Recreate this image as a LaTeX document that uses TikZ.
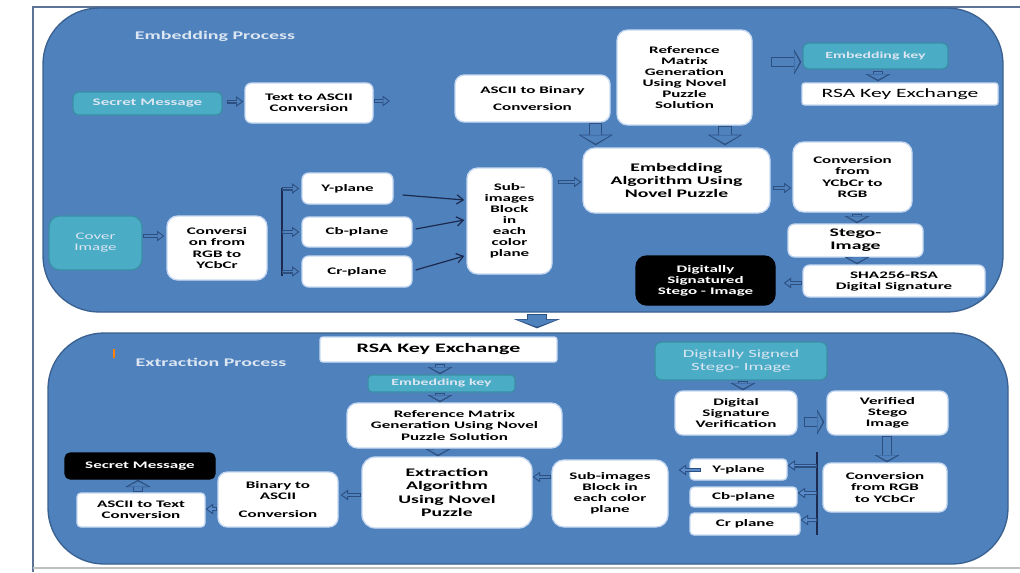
\documentclass[tikz,border=0pt]{standalone}
\usepackage{fontspec}
\setmainfont{Carlito}[FakeStretch=1.7]
\usepackage{tikz}
\usetikzlibrary{arrows.meta,calc,positioning}

\definecolor{panelblue}{HTML}{4F81BD}
\definecolor{paneledge}{HTML}{3A6190}
\definecolor{tealbox}{HTML}{4BACC6}
\definecolor{tealedge}{HTML}{3A8EA5}
\definecolor{paletext}{HTML}{DCE6F2}
\definecolor{boxedge}{HTML}{C6D9F1}
\definecolor{arrowedge}{HTML}{2C4F80}
\definecolor{arrowfill}{HTML}{5B8DCC}
\definecolor{navyline}{HTML}{1B2A4E}
\definecolor{frameline}{HTML}{5C7396}

\newcommand\boxfont{\fontsize{7.5}{8.3}\selectfont\bfseries}
\newcommand\bigfont{\fontsize{8.7}{10}\selectfont\bfseries}

\begin{document}
\begin{tikzpicture}[x=0.75pt,y=-0.75pt,
  sz/.style 2 args={minimum width=#1*0.75pt,minimum height=#2*0.75pt},
  panel/.style={draw=paneledge,fill=panelblue,line width=1pt,rounded corners=42pt},
  wbox/.style={draw=boxedge,fill=white,line width=1pt,rounded corners=5pt,inner sep=1pt,align=center,font=\boxfont},
  tbox/.style={wbox,draw=tealedge,fill=tealbox,text=paletext},
  kbox/.style={wbox,draw=black,fill=black,text=white},
  title/.style={text=paletext,font=\fontsize{8.8}{10}\selectfont\bfseries},
  smallarr/.style={draw=panelblue,line width=1.4pt,shorten <=0.8pt,shorten >=1.3pt,
    -{Triangle[length=3.6pt,width=5pt,line width=0pt]},
    preaction={draw=arrowedge,line width=3pt,shorten <=0pt,shorten >=0pt,
      -{Triangle[length=5.5pt,width=8pt,line width=0pt]}}},
  solidsmall/.style={smallarr,draw=arrowfill},
  midarr/.style={draw=panelblue,line width=5.4pt,shorten <=0.8pt,shorten >=1.3pt,
    -{Triangle[length=4pt,width=15pt,line width=0pt]},
    preaction={draw=arrowedge,line width=7pt,shorten <=0pt,shorten >=0pt,
      -{Triangle[length=5.5pt,width=19pt,line width=0pt]}}},
  bigarr/.style={draw=panelblue,line width=8.4pt,shorten <=0.8pt,shorten >=1.3pt,
    -{Triangle[length=6.2pt,width=22pt,line width=0pt]},
    preaction={draw=arrowedge,line width=10pt,shorten <=0pt,shorten >=0pt,
      -{Triangle[length=8pt,width=26pt,line width=0pt]}}},
  panelarr/.style={draw=panelblue,line width=13.4pt,shorten <=0.8pt,shorten >=1.2pt,
    -{Triangle[length=5.4pt,width=31pt,line width=0pt]},
    preaction={draw=arrowedge,line width=15pt,shorten <=0pt,shorten >=0pt,
      -{Triangle[length=7pt,width=35pt,line width=0pt]}}},
  thinarr/.style={draw=navyline,line width=0.9pt,-{Straight Barb[length=5pt,width=7pt]}},
  splitline/.style={draw=navyline,line width=1.2pt}]

 \useasboundingbox (0,0) rectangle (1020,572);
 \fill[white] (0,0) rectangle (1020,572);
 \draw[frameline,line width=0.8pt] (33,572) -- (33,7) -- (1020,7);
 \draw[black!25,line width=1.2pt] (33,568) -- (1020,568);

 % the two stages
 \node[panel,sz={960}{304}] (embpanel) at (523,160) {};
 \node[panel,sz={960}{231}] (extpanel) at (528,448.5) {};
 \node[title] (embtitle) at (215,36) {Embedding Process};
 \node[title] (exttitle) at (211,362) {Extraction Process};
 \draw[orange,line width=1.2pt] (114,349) -- (114,358);

 \node[tbox,sz={149}{23},rounded corners=4pt] (secmsg) at (147.5,103.5) {Secret Message};
 \node[wbox,sz={128}{40}] (txtascii) at (309,103) {Text to ASCII\\Conversion};
 \coordinate (txtout) at (390,101);
 \node[wbox,sz={155}{47},rounded corners=7pt] (ascbin) at (532.5,98.5) {ASCII to Binary\\[5pt]Conversion};
 \node[wbox,sz={135}{95},rounded corners=8pt] (refmat) at (684.5,77.5) {Reference\\Matrix\\Generation\\Using Novel\\Puzzle\\Solution};
 \node[tbox,sz={145}{26},rounded corners=4pt,font=\fontsize{7}{8}\selectfont\bfseries] (embkey) at (875.5,56) {Embedding key};
 \node[wbox,sz={196}{22},rounded corners=2pt,font=\fontsize{9.5}{11}\selectfont] (rsaone) at (900,94) {RSA Key Exchange};
 \node[wbox,sz={187}{65},rounded corners=9pt,font=\bigfont] (embalg) at (676.5,180.5) {Embedding\\Algorithm Using\\Novel Puzzle};
 \node[wbox,sz={119}{70},rounded corners=8pt] (rgbback) at (852.5,177) {Conversion\\from\\YCbCr to\\RGB};
 \node[wbox,sz={135}{33},font=\bigfont] (stego) at (855.5,240.5) {Stego-\\Image};
 \node[wbox,sz={182}{32}] (shasig) at (894,281) {SHA256-RSA\\Digital Signature};
 \node[kbox,sz={139}{49},rounded corners=8pt] (signed) at (705.5,280.5) {Digitally\\Signatured\\Stego - Image};
 \node[tbox,sz={93}{54},rounded corners=8pt,font=\fontsize{7.5}{8.3}\selectfont] (cover) at (95.5,243) {Cover\\Image};
 \node[wbox,sz={100}{64},rounded corners=8pt] (toycbcr) at (217,248) {Conversi\\on from\\RGB to\\YCbCr};
 \node[wbox,sz={91}{31}] (yplane) at (347.5,188.5) {Y-plane};
 \node[wbox,sz={110}{30}] (cbplane) at (357,232) {Cb-plane};
 \node[wbox,sz={110}{31}] (crplane) at (357,271.5) {Cr-plane};
 \node[wbox,sz={85}{106},rounded corners=8pt] (subimg) at (509.5,221) {Sub-\\images\\Block\\in\\each\\color\\plane};
 \coordinate (splittop) at (282,188);
 \coordinate (splitbot) at (282,276);

 \draw[smallarr] ($(secmsg.east)+(4,-2)$) -- ($(secmsg.east -| txtascii.west)+(-1,-2)$);
 \draw[smallarr] ($(txtascii.east)+(0,-2)$) -- (txtout);
 \draw[bigarr] ($(ascbin.south east)+(-15,0)$) -- ($(ascbin.south east |- embalg.north)+(-15,-2)$);
 \draw[bigarr] ($(refmat.south)+(40.5,0)$) -- ($(refmat.south |- embalg.north)+(40.5,-2)$);
 \draw[midarr] ($(refmat.east |- embkey.west)+(18,6)$) -- ($(embkey.west)+(-1,6)$);
 \draw[midarr] ($(embkey.south)+(2.5,1)$) -- ($(embkey.south |- rsaone.north)+(2.5,-1)$);
 \draw[smallarr] ($(subimg.east |- embalg.west)+(5,1.5)$) -- ($(embalg.west)+(-1,1.5)$);
 \draw[smallarr] ($(embalg.east)+(2,7.5)$) -- ($(embalg.east -| rgbback.west)+(-1,7.5)$);
 \draw[midarr] ($(rgbback.south)+(4.5,1)$) -- ($(rgbback.south |- stego.north)+(4.5,0)$);
 \draw[midarr] ($(stego.south)+(1.5,0)$) -- ($(stego.south |- shasig.north)+(1.5,0)$);
 \draw[smallarr] ($(shasig.west)+(0,2)$) -- ($(shasig.west -| signed.east)+(8,2)$);
 \draw[smallarr] ($(cover.east)+(0,-7)$) -- ($(cover.east -| toycbcr.west)+(-2,-7)$);
 \draw[splitline] (splittop) -- (splitbot);
 \foreach \pl in {yplane,cbplane,crplane}
   \draw[smallarr] (\pl.west -| splittop) -- ($(\pl.west)+(-2,0)$);
 \draw[thinarr] ($(yplane.east)+(9,6.5)$) -- ($(subimg.west)+(-2,-21)$);
 \draw[thinarr] ($(cbplane.east)+(3,-3)$) -- ($(subimg.west)+(-2,-1)$);
 \draw[thinarr] ($(crplane.east)+(3,-1.5)$) -- ($(subimg.west)+(-2,35)$);

 \draw[panelarr] ($(embpanel.south)+(14,1)$) -- ($(embpanel.south |- extpanel.north)+(14,-4)$);

 \node[wbox,sz={237}{25},rounded corners=2pt,font=\fontsize{9.7}{11}\selectfont\bfseries] (rsatwo) at (438.5,349.5) {RSA Key Exchange};
 \node[tbox,sz={147}{17},rounded corners=3pt,font=\fontsize{7}{8}\selectfont\bfseries] (embkeytwo) at (441.5,383.5) {Embedding key};
 \node[wbox,sz={215}{45},rounded corners=8pt] (refmattwo) at (454.5,425.5) {Reference Matrix\\Generation Using Novel\\Puzzle Solution};
 \node[wbox,sz={170}{71},rounded corners=10pt,font=\bigfont] (extalg) at (447,492.5) {Extraction\\Algorithm\\Using Novel\\Puzzle};
 \node[wbox,sz={116}{67},rounded corners=9pt] (subimgtwo) at (610,493.5) {Sub-images\\Block in\\each color\\plane};
 \node[wbox,sz={120}{55},rounded corners=7pt] (binascii) at (278,499.5) {Binary to\\ASCII\\[5pt]Conversion};
 \node[wbox,sz={128}{34},rounded corners=3pt] (asctxt) at (141,510) {ASCII to Text\\Conversion};
 \node[kbox,sz={150}{26},rounded corners=4pt] (secmsgtwo) at (140,466) {Secret Message};
 \node[tbox,sz={172}{38},rounded corners=5pt,font=\fontsize{8.3}{9.5}\selectfont] (signedin) at (741,361) {Digitally Signed\\Stego- Image};
 \node[wbox,sz={122}{44},rounded corners=6pt] (verify) at (736,413) {Digital\\Signature\\Verification};
 \node[wbox,sz={121}{44},rounded corners=6pt] (verified) at (887.5,413) {Verified\\Stego\\Image};
 \node[wbox,sz={124}{49},rounded corners=6pt] (toycbcrtwo) at (885,487.5) {Conversion\\from RGB\\to YCbCr};
 \node[wbox,sz={97}{21},rounded corners=3pt] (yplanetwo) at (738.5,469.5) {Y-plane};
 \node[wbox,sz={107}{20},rounded corners=3pt] (cbplanetwo) at (743.5,497) {Cb-plane};
 \node[wbox,sz={110}{22},rounded corners=3pt] (crplanetwo) at (745,524) {Cr plane};
 \coordinate (jointop) at (817,452);
 \coordinate (joinbot) at (817,535);

 \draw[midarr] ($(rsatwo.south)+(1.5,1)$) -- ($(rsatwo.south |- embkeytwo.north)+(1.5,0)$);
 \draw[midarr] ($(embkeytwo.south)+(-1.5,0)$) -- ($(embkeytwo.south |- refmattwo.north)+(-1.5,0)$);
 \draw[midarr] ($(refmattwo.south)+(-16.5,0)$) -- ($(refmattwo.south |- extalg.north)+(-16.5,0)$);
 \draw[smallarr] ($(subimgtwo.west)+(0,-16.5)$) -- ($(subimgtwo.west -| extalg.east)+(0,-16.5)$);
 \draw[smallarr] ($(extalg.west)+(0,2.5)$) -- ($(extalg.west -| binascii.east)+(2,2.5)$);
 \draw[solidsmall] ($(binascii.west |- asctxt.east)+(0,-1)$) -- ($(asctxt.east)+(0,-1)$);
 \draw[midarr] ($(asctxt.north)+(-3,0)$) -- ($(asctxt.north |- secmsgtwo.south)+(-3,0)$);
 \draw[midarr] ($(signedin.south)+(2,0)$) -- ($(signedin.south |- verify.north)+(2,0)$);
 \draw[midarr] ($(verify.east)+(6,9)$) -- ($(verify.east -| verified.west)+(-2,9)$);
 \draw[midarr] ($(verified.south)+(-0.5,0)$) -- ($(verified.south |- toycbcrtwo.north)+(-0.5,0)$);
 \draw[splitline] (jointop) -- (joinbot);
 \foreach \pl in {yplanetwo,cbplanetwo,crplanetwo}
   \draw[solidsmall] ($(\pl.east -| jointop)+(0,-4)$) -- ($(\pl.east)+(0,-4)$);
 \draw[solidsmall] ($(yplanetwo.west)+(12,0.5)$) -- ($(yplanetwo.west -| subimgtwo.east)+(10,0.5)$);
\end{tikzpicture}
\end{document}
